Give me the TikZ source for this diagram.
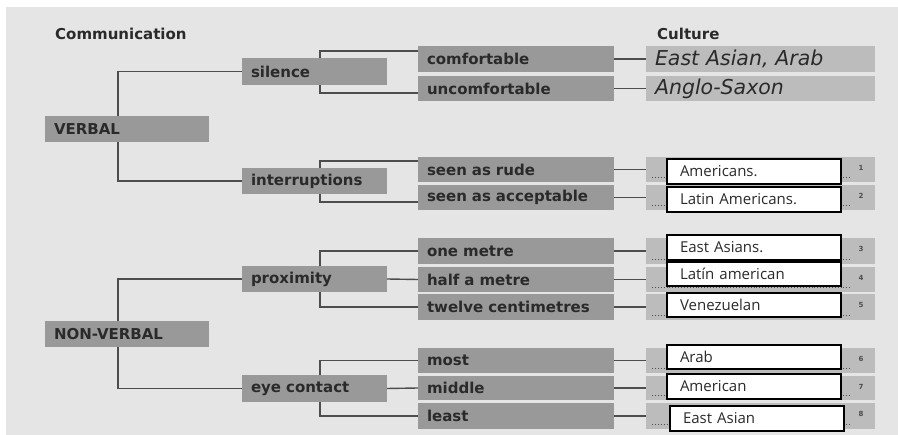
\documentclass[tikz,border=0pt]{standalone}
\usepackage{fontspec}
\setmainfont{DejaVu Sans}
\newfontfamily\answerfont{Open Sans}
\usetikzlibrary{calc}
\definecolor{bgc}{HTML}{E5E5E5}
\definecolor{dk}{HTML}{999999}
\definecolor{lt}{HTML}{BCBCBC}
\definecolor{lnc}{HTML}{4D4D4D}
\definecolor{txc}{HTML}{2A2A2A}
\newcommand\bx[7]{%
  \pgfmathsetmacro\bxw{#5-#3-18}%
  \pgfmathsetmacro\bxh{#6-#4}%
  \node[#1, anchor=north west, text width=\bxw pt, minimum height=\bxh pt] (#2) at (#3,#4) {#7};}
\newcommand\ansrow[2]{% name, number
  \draw[dotline] ($(#1.south west)+(6,-5)$) -- ($(#1.south west)+(204,-5)$);
  \node[numlbl] (#1n) at ($(#1.north west)+(215,11)$) {#2};}
\tikzset{
  basebox/.style={inner xsep=9pt, inner ysep=0pt, outer sep=0pt, align=left},
  lbl/.style={basebox, fill=dk, text=txc, font=\fontsize{15}{17}\selectfont\bfseries},
  cult/.style={basebox, fill=lt, text=txc, font=\fontsize{20.5}{23}\selectfont\itshape},
  ans/.style={basebox, fill=lt},
  wbox/.style={basebox, fill=white, draw=black, line width=1.2pt, text=txc, font=\answerfont\fontsize{15}{17}\selectfont},
  conn/.style={draw=lnc, line width=1.4pt},
  dotline/.style={draw=lnc, line width=0.9pt, dash pattern=on 0.9pt off 2pt},
  numlbl/.style={inner sep=0pt, text=lnc, font=\fontsize{7}{8}\selectfont\bfseries},
  ttl/.style={inner sep=0pt, anchor=west, text=txc, font=\fontsize{15}{17}\selectfont\bfseries}
}
\begin{document}
\begin{tikzpicture}[x=1pt,y=-1pt]
\useasboundingbox (0,0) rectangle (898,435);
\fill[white] (0,0) rectangle (898,435);
\fill[bgc] (6,7) rectangle (898,435);
\coordinate (tx1) at (118,0);
\coordinate (tx2) at (320,0);
% titles
\node[ttl] (comm) at (55,34) {Communication};
\node[ttl] (cultt) at (657,34) {Culture};
% root boxes
\bx{lbl}{verbal}{45}{116}{209}{142}{VERBAL}
\bx{lbl}{nonverbal}{45}{321}{209}{347}{NON-VERBAL}
% level 1
\bx{lbl}{silence}{242}{58}{387}{85}{silence}
\bx{lbl}{interruptions}{242}{168}{387}{194}{interruptions}
\bx{lbl}{proximity}{242}{266}{387}{292}{proximity}
\bx{lbl}{eyecontact}{242}{375}{387}{402}{eye contact}
% level 2
\bx{lbl}{comfortable}{418}{46}{614}{72}{comfortable}
\bx{lbl}{uncomfortable}{418}{76}{614}{101}{uncomfortable}
\bx{lbl}{rude}{418}{157}{614}{182}{seen as rude}
\bx{lbl}{acceptable}{418}{185}{614}{210}{seen as acceptable}
\bx{lbl}{onem}{418}{238}{614}{264}{one metre}
\bx{lbl}{halfm}{418}{267}{614}{292}{half a metre}
\bx{lbl}{twelve}{418}{294}{614}{320}{twelve centimetres}
\bx{lbl}{most}{418}{348}{614}{373}{most}
\bx{lbl}{middle}{418}{376}{614}{400}{middle}
\bx{lbl}{least}{418}{403}{614}{429}{least}
% culture
\bx{cult}{c1}{646}{46}{875}{72}{East Asian, Arab}
\bx{cult}{c2}{646}{76}{875}{101}{Anglo-Saxon}
\bx{ans}{a1}{646}{157}{875}{182}{}
\bx{ans}{a2}{646}{185}{875}{210}{}
\bx{ans}{a3}{646}{238}{875}{264}{}
\bx{ans}{a4}{646}{267}{875}{292}{}
\bx{ans}{a5}{646}{294}{875}{320}{}
\bx{ans}{a6}{646}{348}{875}{373}{}
\bx{ans}{a7}{646}{376}{875}{400}{}
\bx{ans}{a8}{646}{403}{875}{429}{}
\ansrow{a1}{1}
\ansrow{a2}{2}
\ansrow{a3}{3}
\ansrow{a4}{4}
\ansrow{a5}{5}
\ansrow{a6}{6}
\ansrow{a7}{7}
\ansrow{a8}{8}
\bx{wbox}{w1}{667}{159}{841}{184}{\hspace{4pt}Americans.}
\bx{wbox}{w2}{667}{187}{841}{212}{\hspace{4pt}Latin Americans.}
\bx{wbox}{w3}{667}{235}{841}{260}{\hspace{4pt}East Asians.}
\bx{wbox}{w4}{667}{262}{841}{286}{\hspace{4pt}Latín american}
\bx{wbox}{w5}{667}{293}{841}{317}{\hspace{4pt}Venezuelan}
\bx{wbox}{w6}{667}{345}{841}{369}{\hspace{4pt}Arab}
\bx{wbox}{w7}{667}{374}{841}{399}{\hspace{4pt}American}
\bx{wbox}{w8}{670}{406}{844}{431}{\hspace{4pt}East Asian}
% connectors: root to level 1
\draw[conn] (verbal.north -| tx1) |- (silence.west);
\draw[conn] (verbal.south -| tx1) |- (interruptions.west);
\draw[conn] (nonverbal.north -| tx1) |- (proximity.west);
\draw[conn] (nonverbal.south -| tx1) |- (eyecontact.west);
% level 1 to level 2
\draw[conn] ($(comfortable.north west)+(0,5)$) -| (tx2 |- silence.north);
\draw[conn] ($(uncomfortable.south west)+(0,-8)$) -| (tx2 |- silence.south);
\draw[conn] ($(rude.north west)+(0,4)$) -| (tx2 |- interruptions.north);
\draw[conn] ($(acceptable.south west)+(0,-8)$) -| (tx2 |- interruptions.south);
\draw[conn] (onem.west) -| (tx2 |- proximity.north);
\draw[conn] (proximity.east) -- (halfm.west);
\draw[conn] (twelve.west) -| (tx2 |- proximity.south);
\draw[conn] (most.west) -| (tx2 |- eyecontact.north);
\draw[conn] (eyecontact.east) -- (middle.west);
\draw[conn] (least.west) -| (tx2 |- eyecontact.south);
% level 2 to culture
\draw[conn] (comfortable.east) -- (c1.west);
\draw[conn] (uncomfortable.east) -- (c2.west);
\draw[conn] (rude.east) -- (a1.west);
\draw[conn] (acceptable.east) -- (a2.west);
\draw[conn] (onem.east) -- (a3.west);
\draw[conn] (halfm.east) -- (a4.west);
\draw[conn] (twelve.east) -- (a5.west);
\draw[conn] (most.east) -- (a6.west);
\draw[conn] (middle.east) -- (a7.west);
\draw[conn] (least.east) -- (a8.west);
\end{tikzpicture}
\end{document}
